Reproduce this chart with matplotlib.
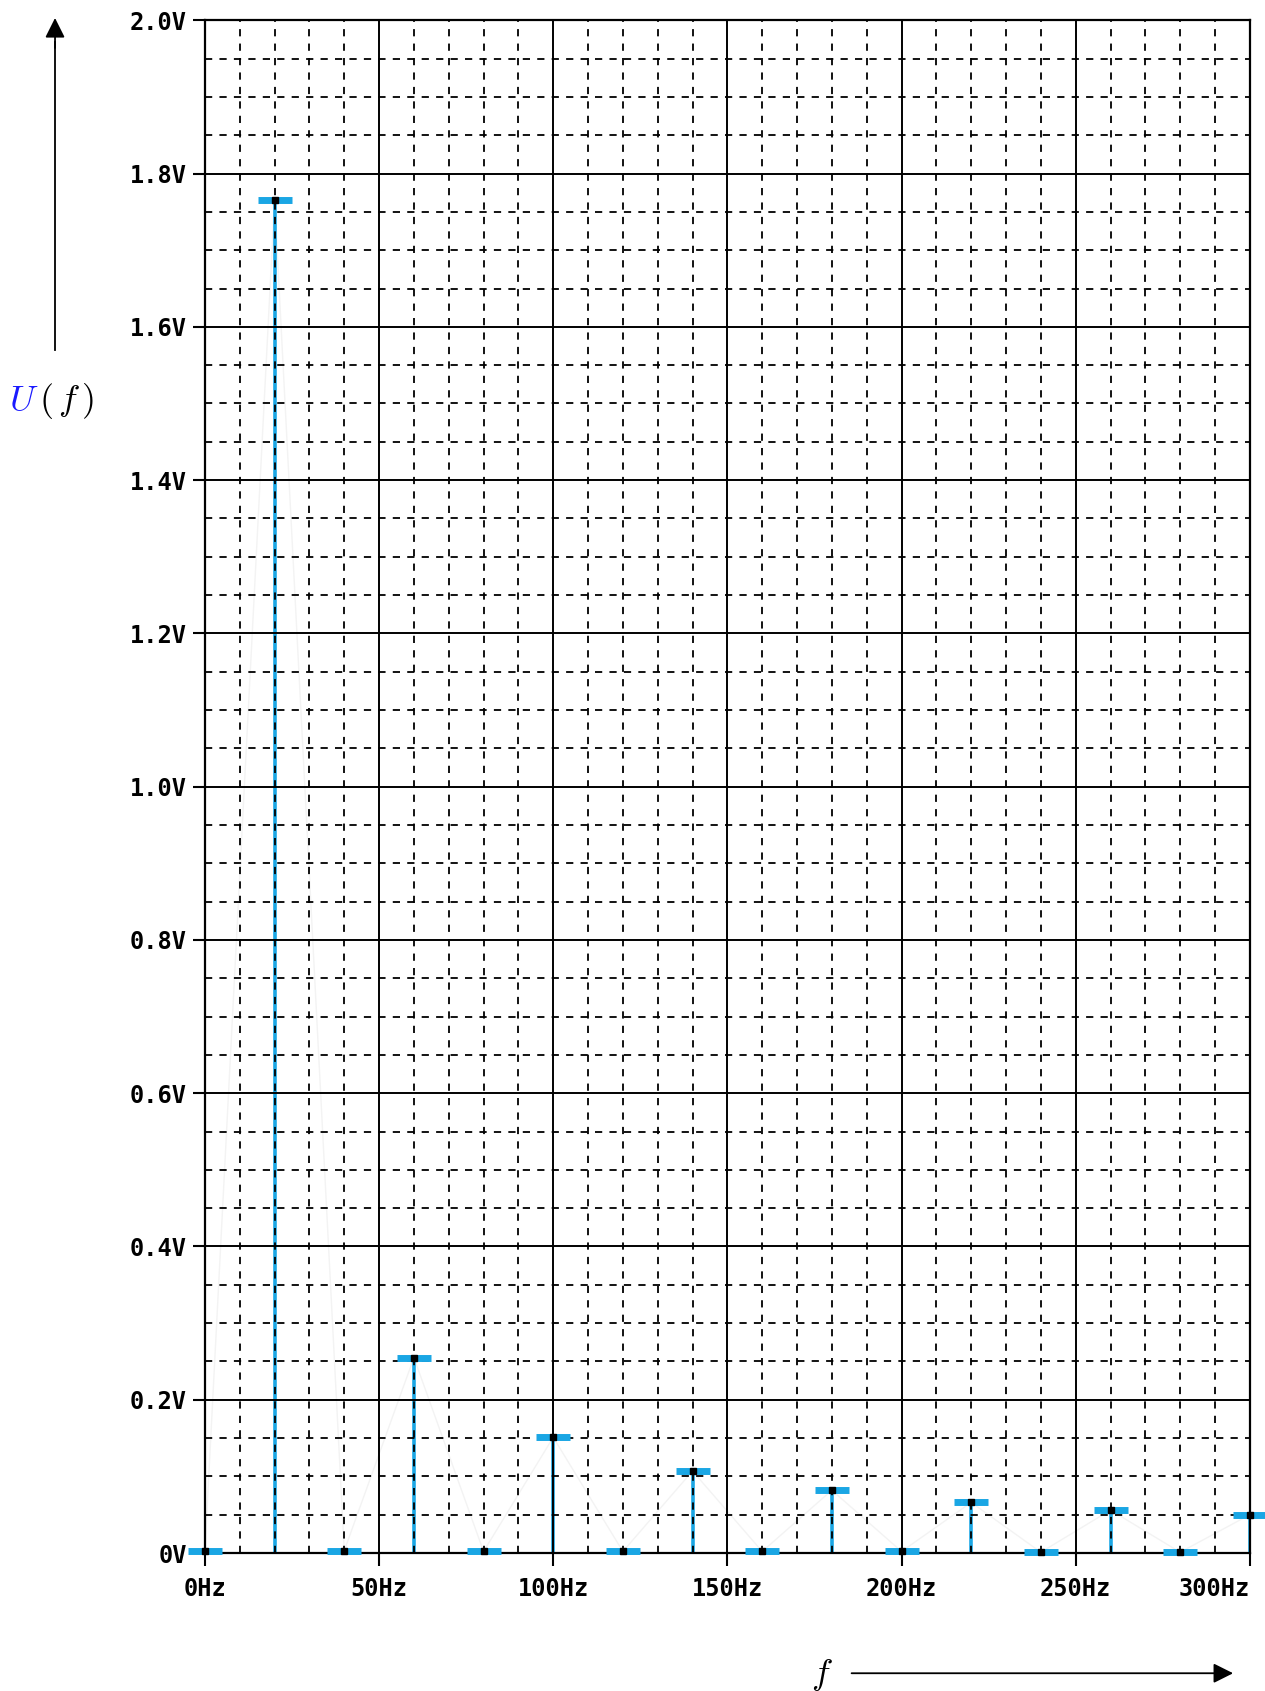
import matplotlib.pyplot as plt
import numpy as np

# Spectrum lines
freqs = [0, 20, 40, 60, 80, 100, 120, 140, 160, 180, 200, 220, 240, 260, 280, 300]
amps = [0.003, 1.765, 0.003, 0.255, 0.002, 0.151, 0.002, 0.107,
        0.002, 0.082, 0.002, 0.066, 0.001, 0.056, 0.001, 0.050]

y_ticks = [0, 0.2, 0.4, 0.6, 0.8, 1.0, 1.2, 1.4, 1.6, 1.8, 2.0]
y_labels = ['0V', '0.2V', '0.4V', '0.6V', '0.8V', '1.0V', '1.2V', '1.4V', '1.6V', '1.8V', '2.0V']
x_ticks = [0, 50, 100, 150, 200, 250, 300]
x_labels = ['0Hz', '50Hz', '100Hz', '150Hz', '200Hz', '250Hz', '300Hz']

plt.rcParams['mathtext.fontset'] = 'cm'

fig = plt.figure(figsize=(12.65, 16.91), dpi=100)
ax = fig.add_axes([0.162, 0.0816, 0.826, 0.9064])

cyan = '#1aa6e4'

# faint connecting trace, as in the scan
ax.plot(freqs, amps, color='#f3f3f3', lw=1, zorder=1)

# stems with cap and dot
ax.vlines(freqs, 0, amps, color=cyan, lw=2.6, zorder=1.5)
ax.plot(freqs, amps, ls='none', marker='_', markersize=24, markeredgewidth=5,
        color=cyan, zorder=5, clip_on=False)
ax.plot(freqs, amps, ls='none', marker='s', markersize=5, color='black',
        zorder=6, clip_on=False)

ax.set_xlim(0, 300)
ax.set_ylim(0, 2.0)
ax.set_xticks(x_ticks)
ax.set_xticklabels(x_labels)
ax.set_yticks(y_ticks)
ax.set_yticklabels(y_labels)
ax.set_xticks(np.arange(0, 301, 10), minor=True)
ax.set_yticks(np.arange(0, 2.001, 0.05), minor=True)

for lab in ax.get_xticklabels() + ax.get_yticklabels():
    lab.set_family('DejaVu Sans Mono')
    lab.set_fontweight('bold')
    lab.set_fontsize(17)
ax.get_xticklabels()[-1].set_horizontalalignment('right')
ax.get_xticklabels()[0].set_horizontalalignment('center')

ax.tick_params(which='major', length=9, width=1.5, color='black', pad=4)
ax.tick_params(axis='x', which='major', pad=8)
ax.tick_params(which='minor', length=0)

ax.grid(which='major', color='black', lw=1.4, ls='-', zorder=2)
ax.grid(which='minor', color='black', lw=1.3, ls=(0, (4, 4)), zorder=2)
for s in ax.spines.values():
    s.set_color('black')
    s.set_linewidth(1.6)
    s.set_zorder(3)

# axis arrows and labels
fig.add_artist(plt.Line2D([0.0435, 0.0435], [0.793, 0.975], color='black', lw=1.3))
ax.annotate('', xy=(0.0435, 0.991), xytext=(0.0435, 0.97), xycoords='figure fraction',
            arrowprops=dict(arrowstyle='-|>', color='black', lw=1.3,
                            mutation_scale=30))
fig.text(0.007, 0.763, '$U$', color='#1a1aff', fontsize=26, va='center')
fig.text(0.031, 0.763, r'$(\,f\,)$', color='black', fontsize=26, va='center')

fig.text(0.641, 0.0095, '$f$', color='black', fontsize=26, va='center')
ax.annotate('', xy=(0.977, 0.0105), xytext=(0.671, 0.0105), xycoords='figure fraction',
            arrowprops=dict(arrowstyle='-|>', color='black', lw=1.3,
                            mutation_scale=30))

fig.savefig('out.png', dpi=100)
